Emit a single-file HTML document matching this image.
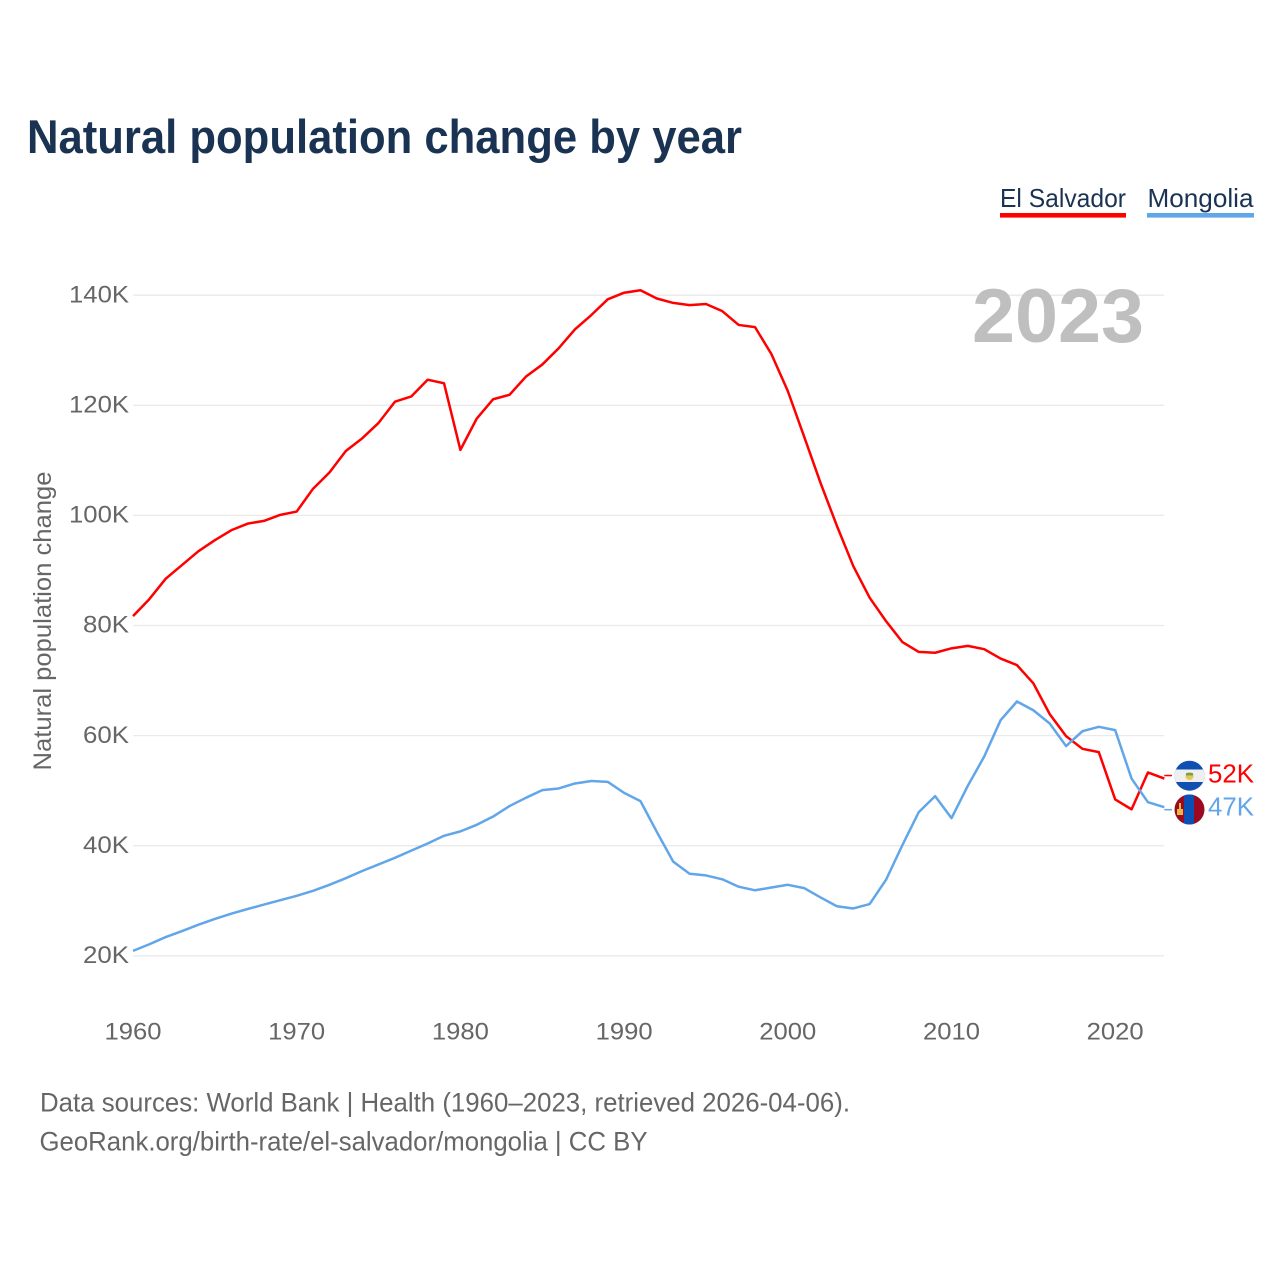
<!DOCTYPE html>
<html lang="en">
<head>
<meta charset="utf-8">
<title>Natural population change by year</title>
<style>
  html, body { margin: 0; padding: 0; background: #fff; }
  svg { display: block; font-family: "Liberation Sans", sans-serif; }
</style>
</head>
<body>
<svg id="chart" width="1280" height="1280" viewBox="0 0 1280 1280" xmlns="http://www.w3.org/2000/svg">
  <defs>
    <clipPath id="clip-sv"><circle cx="1189.5" cy="775.7" r="15"/></clipPath>
    <clipPath id="clip-mn"><circle cx="1189.5" cy="809.5" r="15"/></clipPath>
  </defs>
  <rect x="0" y="0" width="1280" height="1280" fill="#fff"/>
  <text x="27" y="153" font-size="47" font-weight="bold" fill="#1a3353" textLength="715" lengthAdjust="spacingAndGlyphs">Natural population change by year</text>

  <g>
    <text x="1000" y="207" font-size="26" fill="#1a3353" textLength="126" lengthAdjust="spacingAndGlyphs">El Salvador</text>
    <rect x="1000" y="213" width="126" height="4.6" fill="#ff0000"/>
  </g>
  <g>
    <text x="1147.5" y="207" font-size="26" fill="#1a3353" textLength="106" lengthAdjust="spacingAndGlyphs">Mongolia</text>
    <rect x="1147" y="213" width="107" height="4.6" fill="#62a6ea"/>
  </g>

  <text transform="translate(51 621) rotate(-90)" text-anchor="middle" font-size="25" fill="#666" textLength="299" lengthAdjust="spacingAndGlyphs">Natural population change</text>

  <g id="grid"></g>
  <g id="yticks"></g>
  <g id="xticks"></g>

  <text x="972" y="342" font-size="76" font-weight="bold" fill="#bfbfbf" textLength="172" lengthAdjust="spacingAndGlyphs">2023</text>

  <g id="series"></g>
  <g id="ends"></g>

  <g clip-path="url(#clip-sv)">
    <rect x="1174" y="760" width="31" height="32" fill="#0f50b0"/>
    <rect x="1174" y="769.5" width="31" height="12.5" fill="#efefef"/>
    <circle cx="1189.5" cy="776" r="4" fill="#e8c84a"/>
    <rect x="1186" y="773" width="7" height="2.5" fill="#6f9f6f"/>
  </g>
  <g clip-path="url(#clip-mn)">
    <rect x="1174" y="794" width="31" height="32" fill="#9c0a20"/>
    <rect x="1184" y="794" width="10" height="32" fill="#0b50b4"/>
    <rect x="1177" y="809" width="6" height="6" fill="#e6b94a"/>
    <rect x="1179" y="803" width="2" height="6" fill="#e6b94a"/>
  </g>

  <text x="40" y="1111.5" font-size="26.5" fill="#666" textLength="810" lengthAdjust="spacingAndGlyphs">Data sources: World Bank | Health (1960–2023, retrieved 2026-04-06).</text>
  <text x="39.5" y="1150.5" font-size="26.5" fill="#666" textLength="608" lengthAdjust="spacingAndGlyphs">GeoRank.org/birth-rate/el-salvador/mongolia | CC BY</text>
</svg>

<script>
const firstYear = 1960;
const yTickValues = [20, 40, 60, 80, 100, 120, 140];
const xTickValues = [1960, 1970, 1980, 1990, 2000, 2010, 2020];
const elSalvadorValues = [
  81.7, 84.8, 88.5, 91.0, 93.5, 95.5, 97.3, 98.5, 99.0, 100.1,
  100.7, 104.85, 107.8, 111.7, 114.0, 116.8, 120.65, 121.6, 124.65, 124.0,
  111.9, 117.6, 121.1, 121.9, 125.2, 127.4, 130.35, 133.8, 136.4, 139.25,
  140.45, 140.9, 139.4, 138.6, 138.2, 138.4, 137.1, 134.6, 134.2, 129.3,
  122.6, 114.3, 105.9, 98.1, 90.8, 85.05, 80.8, 77.0, 75.2, 75.05,
  75.85, 76.3, 75.7, 74.0, 72.8, 69.5, 63.9, 59.9, 57.6, 57.0,
  48.4, 46.6, 53.3, 52.2
];
const mongoliaValues = [
  20.9, 22.1, 23.4, 24.5, 25.65, 26.7, 27.65, 28.5, 29.3, 30.1,
  30.9, 31.8, 32.9, 34.1, 35.4, 36.6, 37.8, 39.1, 40.4, 41.8,
  42.6, 43.8, 45.3, 47.2, 48.7, 50.1, 50.4, 51.3, 51.75, 51.6,
  49.6, 48.1, 42.5, 37.1, 34.9, 34.6, 33.9, 32.55, 31.9, 32.4,
  32.9, 32.3, 30.6, 29.0, 28.6, 29.4, 33.8, 40.1, 46.1, 49.0,
  45.0, 50.9, 56.2, 62.8, 66.2, 64.6, 62.2, 58.1, 60.8, 61.6,
  61.0, 52.2, 47.9, 47.0
];

const NS = 'http://www.w3.org/2000/svg';
const PLOT_LEFT = 133, PLOT_RIGHT = 1164.3;
const lastYear = firstYear + elSalvadorValues.length - 1;

function xScale(year) {
  return PLOT_LEFT + (year - firstYear) * (PLOT_RIGHT - PLOT_LEFT) / (lastYear - firstYear);
}
function yScale(value) {
  return 955.8 - (value - 20) * 5.505;
}
function make(tag, parent) {
  const el = document.createElementNS(NS, tag);
  parent.appendChild(el);
  return el;
}
function pathFor(values) {
  return values.map(function (v, i) {
    return (i ? 'L' : 'M') + xScale(firstYear + i).toFixed(2) + ' ' + yScale(v).toFixed(2);
  }).join(' ');
}

const grid = document.getElementById('grid');
const yticks = document.getElementById('yticks');
const xticks = document.getElementById('xticks');
const series = document.getElementById('series');
const ends = document.getElementById('ends');

yTickValues.forEach(function (v) {
  const line = make('line', grid);
  
  
  line.setAttribute('x1', PLOT_LEFT);
  line.setAttribute('x2', PLOT_RIGHT);
  line.setAttribute('y1', yScale(v));
  line.setAttribute('y2', yScale(v));
  line.setAttribute('stroke', '#eaeaea');
  line.setAttribute('stroke-width', '1.3');

  const label = make('text', yticks);
  
  
  label.setAttribute('x', 129);
  label.setAttribute('y', yScale(v) + 7.2);
  label.setAttribute('text-anchor', 'end');
  label.setAttribute('font-size', '24.5');
  label.setAttribute('fill', '#666');
  label.setAttribute('textLength', v >= 100 ? 60 : 46);
  label.setAttribute('lengthAdjust', 'spacingAndGlyphs');
  label.textContent = v + 'K';
});

xTickValues.forEach(function (year) {
  const label = make('text', xticks);
  
  
  label.setAttribute('x', xScale(year));
  label.setAttribute('y', 1039.3);
  label.setAttribute('text-anchor', 'middle');
  label.setAttribute('font-size', '24.5');
  label.setAttribute('fill', '#666');
  label.setAttribute('textLength', 57);
  label.setAttribute('lengthAdjust', 'spacingAndGlyphs');
  label.textContent = year;
});

const redLine = make('path', series);


redLine.setAttribute('d', pathFor(elSalvadorValues));
redLine.setAttribute('fill', 'none');
redLine.setAttribute('stroke', '#ff0000');
redLine.setAttribute('stroke-width', '2.5');
redLine.setAttribute('stroke-linejoin', 'round');

const blueLine = make('path', series);


blueLine.setAttribute('d', pathFor(mongoliaValues));
blueLine.setAttribute('fill', 'none');
blueLine.setAttribute('stroke', '#62a6ea');
blueLine.setAttribute('stroke-width', '2.5');
blueLine.setAttribute('stroke-linejoin', 'round');

const redEndValue = elSalvadorValues[elSalvadorValues.length - 1];
const blueEndValue = mongoliaValues[mongoliaValues.length - 1];

const redDash = make('line', ends);


redDash.setAttribute('x1', PLOT_RIGHT);
redDash.setAttribute('x2', 1172);
redDash.setAttribute('y1', yScale(redEndValue) - 3);
redDash.setAttribute('y2', yScale(redEndValue) - 3);
redDash.setAttribute('stroke', '#ff0000');
redDash.setAttribute('stroke-width', '1.5');

const blueDash = make('line', ends);


blueDash.setAttribute('x1', PLOT_RIGHT);
blueDash.setAttribute('x2', 1172);
blueDash.setAttribute('y1', yScale(blueEndValue) + 2.5);
blueDash.setAttribute('y2', yScale(blueEndValue) + 2.5);
blueDash.setAttribute('stroke', '#62a6ea');
blueDash.setAttribute('stroke-width', '1.5');

const redLabel = make('text', ends);


redLabel.setAttribute('x', 1208);
redLabel.setAttribute('y', yScale(redEndValue) + 4.2);
redLabel.setAttribute('font-size', '25.5');
redLabel.setAttribute('fill', '#ff0000');
redLabel.setAttribute('textLength', 46);
redLabel.setAttribute('lengthAdjust', 'spacingAndGlyphs');
redLabel.textContent = Math.round(redEndValue) + 'K';

const blueLabel = make('text', ends);


blueLabel.setAttribute('x', 1208);
blueLabel.setAttribute('y', yScale(blueEndValue) + 8.2);
blueLabel.setAttribute('font-size', '25.5');
blueLabel.setAttribute('fill', '#62a6ea');
blueLabel.setAttribute('textLength', 46);
blueLabel.setAttribute('lengthAdjust', 'spacingAndGlyphs');
blueLabel.textContent = Math.round(blueEndValue) + 'K';
</script>
</body>
</html>
